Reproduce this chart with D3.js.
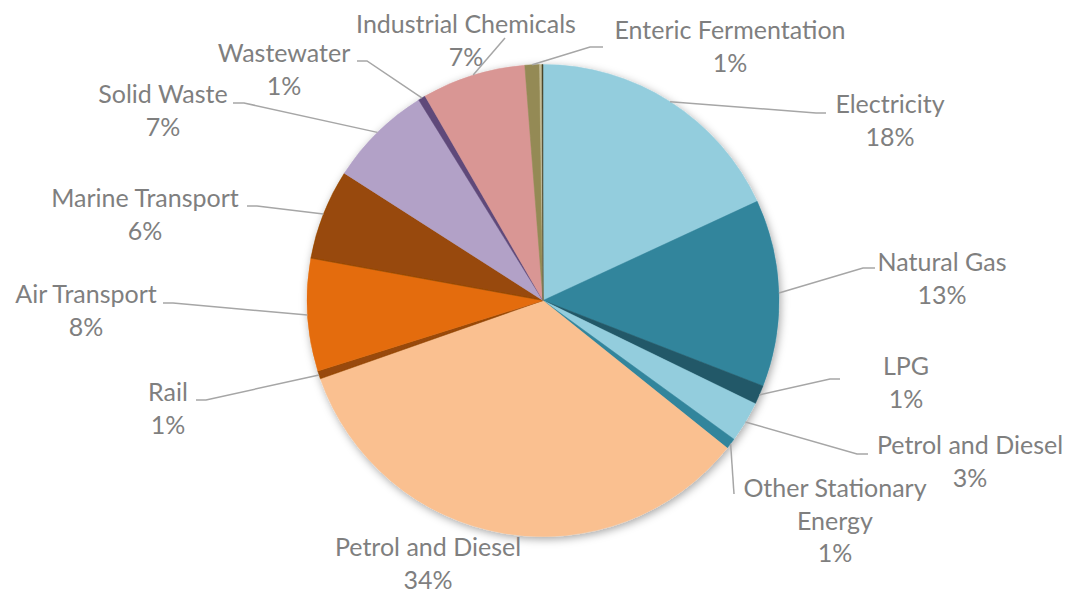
<!DOCTYPE html>
<html>
<head>
<meta charset="utf-8">
<script src="https://cdn.jsdelivr.net/npm/d3@7/dist/d3.min.js"></script>
<style>
  html, body { margin: 0; padding: 0; background: #ffffff; }
  svg { display: block; }
  text { font-family: Lato, "Open Sans", sans-serif; }
</style>
</head>
<body>
<svg id="chart" width="1067" height="593"></svg>
<script>
// ---------- data ----------
const categories = [
  "Electricity", "Natural Gas", "LPG", "Petrol and Diesel", "Other Stationary Energy",
  "Petrol and Diesel", "Rail", "Air Transport", "Marine Transport", "Solid Waste",
  "Wastewater", "Industrial Chemicals", "Enteric Fermentation", "Other (unlabelled) A", "Other (unlabelled) B"
];
const values = [18.1, 12.8, 1.3, 2.8, 0.75, 33.87, 0.55, 7.7, 6.2, 7.1, 0.5, 7.1, 1.0, 0.16, 0.07];
// label text lines (name part); null = no label shown
const labelNames = [
  ["Electricity"], ["Natural Gas"], ["LPG"], ["Petrol and Diesel"], ["Other Stationary", "Energy"],
  ["Petrol and Diesel"], ["Rail"], ["Air Transport"], ["Marine Transport"], ["Solid Waste"],
  ["Wastewater"], ["Industrial Chemicals"], ["Enteric Fermentation"], null, null
];

// ---------- styles / layout ----------
const colors = ["#93CDDD", "#31859C", "#215968", "#93CDDD", "#31859C",
  "#FAC090", "#984807", "#E46C0A", "#984807", "#B2A1C7",
  "#5F497A", "#D99694", "#948A54", "#C4BD97", "#4A452A"];
// label layout: text centre x, first baseline y, leader attach x/y, elbow x (null = none)
const labelLayout = [
  {cx: 890, by: 113, ax: 826, ay: 113, ex: 816},
  {cx: 942, by: 271, ax: 875, ay: 268, ex: 863},
  {cx: 906, by: 375, ax: 840, ay: 379, ex: 830},
  {cx: 970, by: 454, ax: 868, ay: 454, ex: 857},
  {cx: 835, by: 497, ax: 734, ay: 494, ex: null},
  {cx: 428, by: 556, ax: null},
  {cx: 168, by: 401, ax: 196, ay: 400, ex: 206},
  {cx: 86,  by: 303, ax: 163, ay: 303, ex: 173},
  {cx: 145, by: 207, ax: 247, ay: 206, ex: 257},
  {cx: 163, by: 103, ax: 233, ay: 103, ex: 244},
  {cx: 284, by: 62,  ax: 357, ay: 61,  ex: 367},
  {cx: 466, by: 33,  ax: 505, ay: 38,  ex: null},
  {cx: 730, by: 39,  ax: 603, ay: 47,  ex: 590},
  null, null
];
const cx = 543, cy = 300.5, R = 236;
const lineH = 32.5;
const fontSize = 25;

const data = categories.map((c, i) => ({name: c, value: values[i], color: colors[i], lines: labelNames[i], layout: labelLayout[i]}));
const total = d3.sum(values);

const svg = d3.select("#chart");
const defs = svg.append("defs");
const f = defs.append("filter").attr("id", "shadow").attr("x", "-20%").attr("y", "-20%").attr("width", "140%").attr("height", "140%");
f.append("feDropShadow").attr("dx", 1.5).attr("dy", 2.5).attr("stdDeviation", 4).attr("flood-color", "#000").attr("flood-opacity", 0.35);

const pie = d3.pie().value(d => d.value).sort(null).startAngle(0).endAngle(2 * Math.PI);
const arcs = pie(data);
const arc = d3.arc().innerRadius(0).outerRadius(R);

const g = svg.append("g").attr("transform", `translate(${cx},${cy})`);
const slices = g.append("g").attr("filter", "url(#shadow)");
slices.selectAll("path").data(arcs).join("path")
  .attr("d", arc)
  .attr("fill", d => d.data.color)
  .attr("stroke", d => d.data.color)
  .attr("stroke-width", 0.5);

// leaders
const leaderG = svg.append("g").attr("fill", "none").attr("stroke", "#A6A6A6").attr("stroke-width", 1.5);
arcs.forEach(a => {
  const L = a.data.layout;
  if (!L || L.ax == null) return;
  const mid = (a.startAngle + a.endAngle) / 2;
  const px = cx + R * Math.sin(mid), py = cy - R * Math.cos(mid);
  const pts = [[px, py]];
  if (L.ex != null) pts.push([L.ex, L.ay]);
  pts.push([L.ax, L.ay]);
  leaderG.append("path").attr("d", d3.line()(pts));
});

// labels
const labelG = svg.append("g").attr("fill", "#7F7F7F").attr("font-size", fontSize).attr("text-anchor", "middle");
arcs.forEach(a => {
  const L = a.data.layout;
  if (!L || !a.data.lines) return;
  const pct = Math.round(a.data.value / total * 100) + "%";
  const lines = a.data.lines.concat([pct]);
  const t = labelG.append("text").attr("x", L.cx).attr("y", L.by);
  lines.forEach((ln, k) => {
    t.append("tspan").attr("x", L.cx).attr("y", L.by + k * lineH).text(ln);
  });
});
</script>
</body>
</html>
